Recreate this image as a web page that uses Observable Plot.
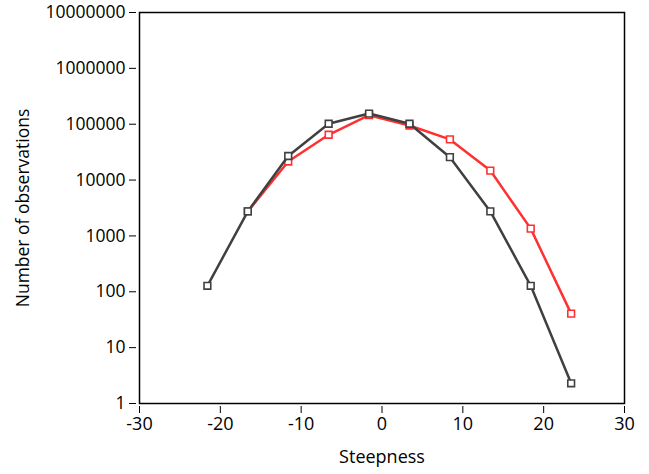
<!DOCTYPE html>
<html>
<head>
<meta charset="utf-8">
<script src="https://cdn.jsdelivr.net/npm/d3@7"></script>
<script src="https://cdn.jsdelivr.net/npm/@observablehq/plot@0.6"></script>
<style>
  html, body { margin: 0; padding: 0; background: #fff; }
</style>
</head>
<body>
<div id="chart"></div>
<script>
const steepness = [-21.6, -16.6, -11.6, -6.6, -1.6, 3.4, 8.4, 13.4, 18.4, 23.4];
const blackCounts = [128, 2750, 27000, 102000, 155000, 102000, 25700, 2750, 128, 2.3];
const redCounts = [null, 2750, 21500, 64700, 145000, 95000, 53500, 14800, 1350, 40.6];
const xTicks = [-30, -20, -10, 0, 10, 20, 30];
const yTicks = [1, 10, 100, 1000, 10000, 100000, 1000000, 10000000];

const black = steepness.map((x, i) => ({x, y: blackCounts[i]})).filter(d => d.y != null);
const red = steepness.map((x, i) => ({x, y: redCounts[i]})).filter(d => d.y != null);

const BLACK = "#404040";
const RED = "#ff3030";

const chart = Plot.plot({
  width: 649,
  height: 474,
  marginLeft: 139,
  marginRight: 25,
  marginTop: 12,
  marginBottom: 71,
  style: {fontFamily: "'Open Sans', sans-serif", fontSize: "17px", color: "#000", background: "#fff"},
  x: {domain: [-30, 30]},
  y: {type: "log", domain: [1, 10000000]},
  marks: [
    Plot.axisX({ticks: xTicks, tickFormat: d => String(d), tickSize: 7, dy: 3, tickPadding: 4,
      label: "Steepness", labelAnchor: "center", labelArrow: "none", labelOffset: 59, fontSize: 18}),
    Plot.axisY({ticks: yTicks, tickFormat: d => d.toFixed(0), tickSize: 7, dx: -3, tickPadding: 4,
      label: "Number of observations", labelAnchor: "center", labelArrow: "none", labelOffset: 123, fontSize: 17.5}),
    Plot.frame({stroke: "#000", strokeWidth: 1.5}),
    Plot.line(red, {x: "x", y: "y", stroke: RED, strokeWidth: 2.5}),
    Plot.dot(red, {x: "x", y: "y", symbol: "square", r: 3.8, stroke: RED, strokeWidth: 1.6, fill: "white"}),
    Plot.line(black, {x: "x", y: "y", stroke: BLACK, strokeWidth: 2.5}),
    Plot.dot(black, {x: "x", y: "y", symbol: "square", r: 3.8, stroke: BLACK, strokeWidth: 1.6, fill: "white"})
  ]
});
document.getElementById("chart").appendChild(chart);
</script>
</body>
</html>
